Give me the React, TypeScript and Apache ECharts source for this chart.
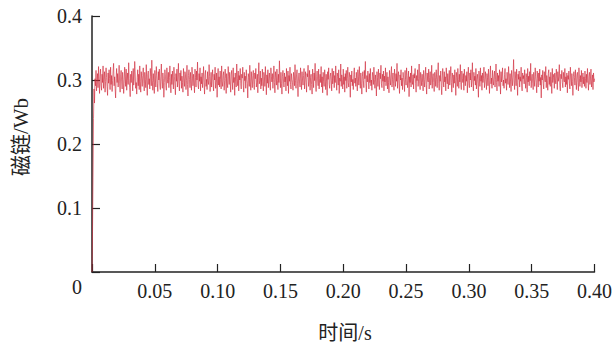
import React, { useEffect, useRef } from "react";
import * as echarts from "echarts";

// Flux linkage samples in mWb, one every 0.0004 s from t = 0 to t = 0.4 s
const fluxMilliWb: number[] = [
  0, 62, 148, 240, 286, 264, 302, 291, 315, 283, 297, 310, 288, 321, 299, 279, 306, 317, 292, 284,
  309, 296, 322, 287, 301, 313, 281, 298, 319, 304, 290, 276, 311, 295, 316, 302, 285, 320, 293, 307,
  282, 299, 314, 326, 291, 305, 287, 272, 303, 318, 296, 310, 289, 300, 323, 294, 281, 308, 315, 297,
  286, 312, 301, 279, 295, 320, 306, 290, 317, 284, 299, 311, 293, 327, 302, 288, 274, 309, 296, 314,
  305, 283, 318, 292, 300, 329, 311, 287, 296, 278, 304, 316, 291, 309, 285, 322, 298, 281, 313, 303,
  290, 307, 319, 295, 283, 312, 301, 288, 324, 297, 276, 308, 314, 293, 302, 286, 318, 305, 291, 331,
  299, 284, 310, 296, 279, 315, 303, 289, 321, 307, 294, 282, 313, 300, 317, 292, 285, 306, 325, 298,
  287, 311, 302, 273, 296, 316, 308, 291, 284, 319, 301, 295, 312, 288, 304, 322, 297, 280, 309, 293,
  314, 300, 286, 320, 305, 292, 277, 310, 298, 317, 289, 303, 326, 294, 283, 311, 299, 315, 287, 306,
  296, 281, 318, 302, 290, 313, 308, 285, 299, 323, 293, 275, 307, 316, 301, 288, 312, 295, 284, 320,
  303, 291, 309, 297, 280, 317, 304, 289, 314, 300, 328, 292, 286, 310, 298, 319, 283, 305, 294, 311,
  288, 302, 321, 296, 278, 308, 315, 290, 301, 285, 313, 299, 293, 324, 306, 282, 297, 312, 289, 304,
  316, 294, 283, 309, 300, 320, 287, 296, 311, 273, 303, 318, 292, 305, 289, 314, 301, 286, 322, 298,
  290, 307, 313, 284, 299, 317, 302, 279, 310, 295, 288, 321, 306, 293, 312, 297, 281, 308, 315, 300,
  285, 319, 296, 304, 276, 311, 298, 289, 325, 302, 291, 314, 283, 307, 300, 318, 294, 286, 309, 303,
  320, 292, 281, 312, 299, 306, 287, 316, 301, 295, 272, 310, 304, 290, 323, 297, 284, 313, 300, 288,
  307, 315, 293, 285, 311, 302, 318, 289, 296, 309, 280, 305, 327, 294, 299, 314, 286, 303, 291, 317,
  298, 283, 312, 306, 290, 321, 300, 277, 308, 295, 316, 288, 302, 311, 293, 284, 319, 305, 297, 310,
  287, 301, 322, 296, 280, 313, 304, 292, 317, 299, 285, 309, 296, 330, 303, 288, 312, 294, 278, 306,
  315, 300, 289, 311, 297, 305, 283, 318, 302, 291, 314, 279, 307, 298, 320, 293, 286, 310, 301, 296,
  284, 312, 305, 291, 324, 299, 287, 308, 316, 294, 274, 303, 311, 297, 289, 319, 302, 285, 313, 300,
  292, 307, 318, 286, 301, 313, 296, 281, 310, 305, 323, 290, 298, 315, 284, 304, 309, 293, 278, 317,
  303, 288, 311, 299, 326, 295, 282, 306, 314, 300, 291, 317, 286, 302, 309, 296, 321, 289, 305, 280,
  312, 298, 290, 316, 304, 285, 309, 297, 276, 313, 301, 319, 293, 287, 306, 311, 299, 283, 318, 294,
  302, 314, 288, 307, 296, 322, 300, 284, 311, 305, 292, 316, 279, 303, 298, 325, 290, 308, 301, 286,
  317, 293, 305, 281, 310, 299, 315, 287, 302, 320, 296, 289, 312, 304, 273, 308, 297, 314, 291, 301,
  285, 309, 319, 295, 303, 290, 312, 298, 283, 316, 306, 292, 321, 300, 287, 311, 295, 278, 305, 313,
  299, 288, 315, 302, 329, 294, 281, 307, 297, 314, 303, 286, 310, 296, 318, 291, 300, 284, 312, 306,
  293, 320, 301, 287, 308, 296, 275, 313, 304, 290, 317, 299, 285, 311, 302, 323, 294, 288, 309, 298,
  314, 283, 306, 297, 319, 291, 300, 312, 286, 305, 296, 280, 315, 303, 292, 309, 321, 289, 301, 311,
  295, 284, 317, 302, 290, 310, 298, 326, 287, 306, 313, 294, 279, 308, 300, 316, 291, 303, 285, 312,
  304, 297, 282, 315, 301, 292, 319, 307, 288, 299, 314, 274, 305, 296, 311, 289, 322, 300, 293, 308,
  286, 310, 303, 318, 294, 281, 307, 299, 316, 290, 302, 325, 297, 285, 312, 304, 291, 309, 296, 283,
  315, 301, 289, 306, 320, 293, 278, 311, 300, 297, 317, 286, 304, 313, 292, 299, 323, 287, 305, 310,
  296, 282, 312, 304, 290, 316, 301, 288, 309, 327, 295, 284, 307, 298, 314, 291, 277, 303, 318, 300,
  289, 313, 297, 305, 283, 319, 302, 294, 310, 286, 300, 315, 292, 306, 321, 296, 281, 311, 303, 288,
  308, 295, 316, 299, 276, 312, 304, 290, 318, 301, 287, 309, 297, 324, 293, 285, 314, 302, 296, 310,
  284, 317, 303, 291, 307, 298, 313, 280, 305, 320, 294, 288, 311, 300, 316, 289, 302, 327, 297, 283,
  312, 299, 306, 292, 318, 286, 301, 309, 295, 273, 314, 303, 290, 319, 298, 307, 284, 311, 296, 302,
  320, 288, 297, 313, 301, 285, 310, 304, 291, 317, 299, 279, 308, 322, 294, 303, 287, 315, 300, 292,
  306, 314, 289, 301, 325, 296, 283, 311, 298, 307, 290, 316, 302, 278, 313, 297, 305, 319, 291, 300,
  287, 309, 318, 295, 302, 284, 312, 300, 293, 321, 306, 288, 310, 297, 282, 315, 304, 291, 308, 332,
  299, 285, 313, 303, 291, 317, 296, 276, 309, 301, 314, 289, 305, 298, 320, 292, 283, 311, 302, 307,
  294, 316, 300, 287, 310, 304, 281, 318, 297, 306, 291, 313, 299, 326, 288, 303, 309, 295, 285, 312,
  301, 290, 319, 305, 296, 280, 314, 302, 289, 311, 298, 317, 292, 304, 272, 308, 300, 315, 294, 286,
  313, 302, 297, 321, 288, 307, 299, 284, 310, 316, 293, 305, 290, 312, 301, 279, 318, 296, 304, 309,
  287, 311, 300, 294, 317, 303, 285, 313, 298, 306, 324, 291, 283, 309, 302, 315, 296, 288, 312, 301,
  297, 318, 289, 305, 293, 311, 280, 307, 301, 314, 295, 286, 320, 303, 291, 310, 298, 276, 306, 313,
  304, 292, 316, 299, 285, 308, 312, 296, 283, 319, 302, 290, 307, 297, 315, 288, 301, 311, 294, 305,
  290, 314, 302, 287, 309, 296, 318, 300, 284, 306, 312, 293, 303, 317, 289, 299, 308, 285, 311, 297,
  302,
];
const sampleStepS = 0.0004;

const xTickLabels = ["0", "0.05", "0.10", "0.15", "0.20", "0.25", "0.30", "0.35", "0.40"];
const yTickLabels = ["0", "0.1", "0.2", "0.3", "0.4"];
const xAxisTitle = "时间/s";
const yAxisTitle = "磁链/Wb";

const FONT = "'Liberation Serif', 'Times New Roman', 'Noto Sans CJK SC', serif";
const INK = "#222";

export default function App() {
  const ref = useRef<HTMLDivElement>(null);

  useEffect(() => {
    document.body.style.margin = "0";
    if (!ref.current) return;
    const chart = echarts.init(ref.current, undefined, { renderer: "svg" });
    const seriesData = fluxMilliWb.map((v, i) => [
      Number((i * sampleStepS).toFixed(4)),
      v / 1000,
    ]);
    chart.setOption({
      animation: false,
      backgroundColor: "#fff",
      grid: { left: 92, right: 20.5, top: 16, bottom: 76 },
      xAxis: {
        type: "value",
        min: 0,
        max: 0.4,
        interval: 0.05,
        axisLine: { lineStyle: { color: INK, width: 1.5 } },
        axisTick: { inside: true, length: 8, lineStyle: { color: INK, width: 1.2 } },
        splitLine: { show: false },
        axisLabel: {
          margin: 9,
          color: INK,
          fontFamily: FONT,
          fontSize: 20,
          formatter: (v: number) => {
            const idx = Math.round(v / 0.05);
            return idx === 0 ? "" : xTickLabels[idx] ?? "";
          },
        },
      },
      yAxis: {
        type: "value",
        min: 0,
        max: 0.4,
        interval: 0.1,
        axisLine: { lineStyle: { color: INK, width: 1.5 } },
        axisTick: { inside: true, length: 8, lineStyle: { color: INK, width: 1.2 } },
        splitLine: { show: false },
        axisLabel: {
          margin: 10,
          color: INK,
          fontFamily: FONT,
          fontSize: 20,
          formatter: (v: number) => {
            const idx = Math.round(v / 0.1);
            return idx === 0 ? "" : yTickLabels[idx] ?? "";
          },
        },
      },
      graphic: [
        {
          type: "text",
          x: 77,
          y: 287,
          style: {
            text: xTickLabels[0],
            fill: INK,
            font: `20px ${FONT}`,
            align: "center",
            verticalAlign: "middle",
          },
        },
        {
          type: "text",
          x: 345,
          y: 333,
          style: {
            text: xAxisTitle,
            fill: INK,
            font: `20px ${FONT}`,
            align: "center",
            verticalAlign: "middle",
          },
        },
        {
          type: "text",
          x: 21,
          y: 137,
          rotation: Math.PI / 2,
          style: {
            text: yAxisTitle,
            fill: INK,
            font: `21px ${FONT}`,
            align: "center",
            verticalAlign: "middle",
          },
        },
      ],
      series: [
        {
          type: "line",
          data: seriesData,
          showSymbol: false,
          symbol: "none",
          lineStyle: { color: "#d02a3c", width: 0.8, opacity: 0.8 },
          z: 1,
        },
      ],
    });
    return () => chart.dispose();
  }, []);

  return <div ref={ref} style={{ width: 615, height: 348 }} />;
}
